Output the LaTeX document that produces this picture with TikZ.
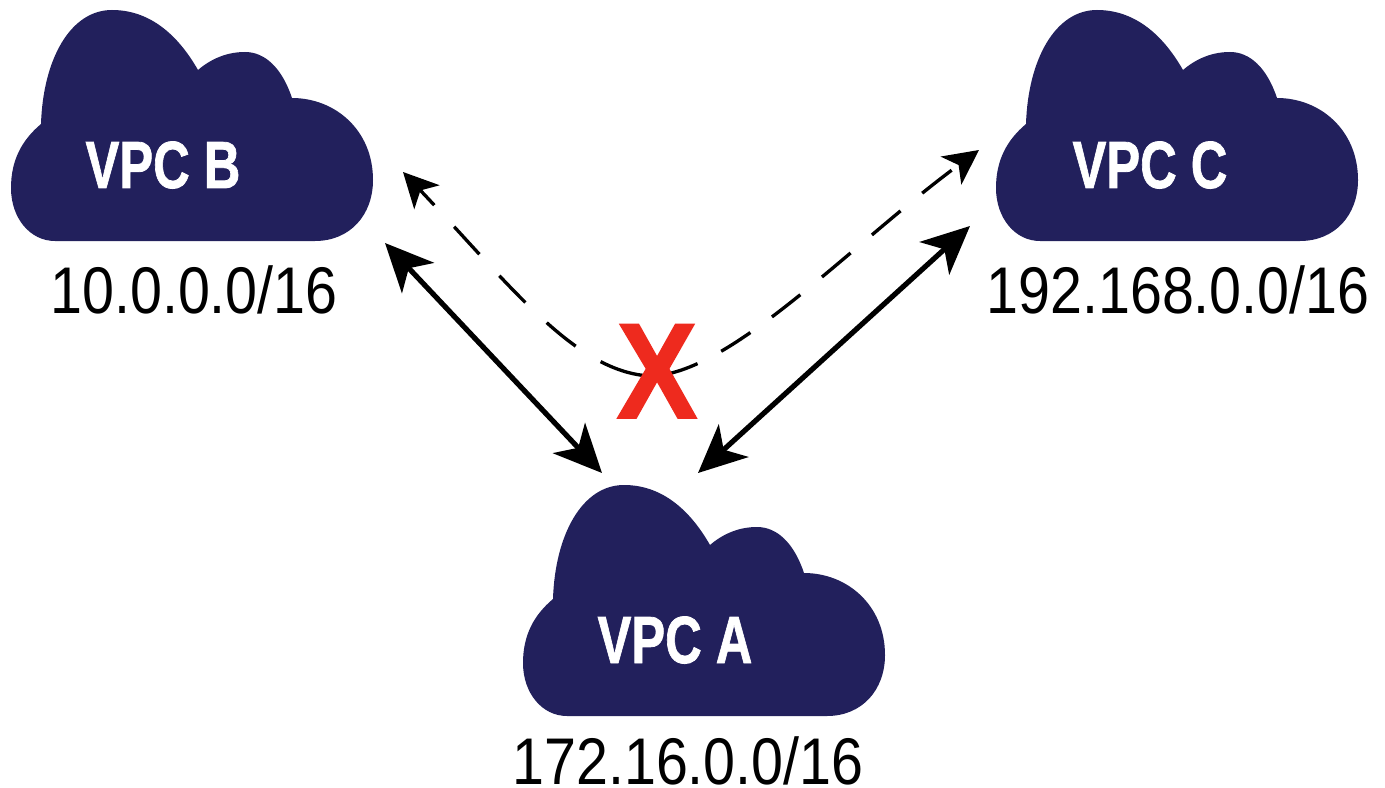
\documentclass[tikz,border=0pt]{standalone}
\usepackage{fontspec}
\setmainfont{Liberation Sans}
\newfontfamily\vpcfont[UprightFeatures={FakeBold=1.2}]{Liberation Sans Bold}
\usetikzlibrary{arrows.meta}
\definecolor{cloudblue}{HTML}{22205C}
\definecolor{xred}{HTML}{EE2A1E}
\tikzset{
  x=0.75pt, y=-0.75pt,
  cloudfill/.style={fill=cloudblue, draw=none},
  vpclabel/.style={anchor=base, inner sep=0pt, text=white, xscale=.76, font=\fontsize{50}{50}\selectfont\vpcfont},
  cidrlabel/.style={anchor=base, inner sep=0pt, text=black, xscale=.87, font=\fontsize{49.5}{50}\selectfont},
  solidlink/.style={line width=3.9pt, {Stealth[length=36pt,width=33pt,inset=10pt]}-{Stealth[length=36pt,width=33pt,inset=10pt]}},
  blockedlink/.style={line width=2.5pt, {Stealth[length=26pt,width=26pt,inset=7pt]}-{Stealth[length=26pt,width=26pt,inset=7pt]}}
}
\newcommand{\cloudat}[2]{%
  \fill[cloudfill, shift={(#1,#2)}]
    (55,241) -- (315,241)
    .. controls (350,241) and (373,215) .. (373,180)
    .. controls (373,130) and (335,98) .. (292,98)
    .. controls (282,68) and (265,52) .. (245,52)
    .. controls (228,52) and (212,58) .. (198,70)
    .. controls (178,35) and (150,10) .. (112,10)
    .. controls (70,10) and (43,60) .. (41,124)
    .. controls (22,140) and (11,160) .. (11,188)
    .. controls (11,218) and (30,241) .. (55,241) -- cycle;%
}
\begin{document}
\begin{tikzpicture}
\useasboundingbox (0,0) rectangle (1385,788);
\fill[white] (0,0) rectangle (1385,788);

\cloudat{0}{0}
\cloudat{512}{475}
\cloudat{985}{0}

\node[vpclabel] (vpcB) at (163,188) {VPC B};
\node[vpclabel] (vpcC) at (1150,188) {VPC C};
\node[vpclabel] (vpcA) at (675,663) {VPC A};

\node[cidrlabel] (cidrB) at (194,313) {10.0.0.0/16};
\node[cidrlabel] (cidrC) at (1178,313) {192.168.0.0/16};
\node[cidrlabel] (cidrA) at (688,784) {172.16.0.0/16};

\coordinate (solidBtip) at (385,243);
\coordinate (solidAleft) at (602,473);
\coordinate (solidCtip) at (970,226);
\coordinate (solidAright) at (698,473);
\coordinate (dashBtip) at (403,172);
\coordinate (dashCtip) at (979,150);
\coordinate (dashMid) at (650,376);

\draw[solidlink] (solidBtip) -- (solidAleft);
\draw[solidlink] (solidCtip) -- (solidAright);

\draw[blockedlink, dash pattern=on 16pt off 22pt on 28pt off 22pt on 28pt off 22pt on 28pt off 22pt on 76pt off 20pt on 26pt off 20pt on 27pt off 21pt on 28pt off 21pt on 28pt off 21pt on 28pt off 21pt on 60pt]
  (dashBtip)
  .. controls (510,285) and (575,372) .. (dashMid)
  .. controls (730,375) and (850,245) .. (dashCtip);

\node[anchor=base, inner sep=0pt, text=xred, xscale=.89, font=\fontsize{102}{102}\selectfont\vpcfont] (blocked) at (657,418) {X};
\end{tikzpicture}
\end{document}
